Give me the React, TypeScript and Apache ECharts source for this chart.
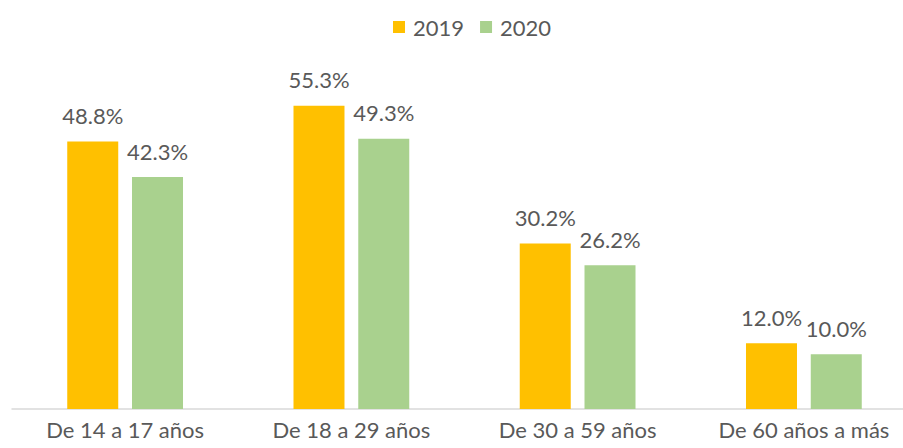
import React, { useEffect, useRef } from "react";
import * as echarts from "echarts";

const categories = ["De 14 a 17 años", "De 18 a 29 años", "De 30 a 59 años", "De 60 años a más"];
const seriesNames = ["2019", "2020"];
const values2019 = [48.8, 55.3, 30.2, 12.0];
const values2020 = [42.3, 49.3, 26.2, 10.0];
const colors = ["#FFC000", "#A9D18E"];

const FONT = "Lato, 'Open Sans', sans-serif";
const TEXT = "#595959";

export default function App() {
  const ref = useRef<HTMLDivElement>(null);
  useEffect(() => {
    if (!ref.current) return;
    const chart = echarts.init(ref.current, null, { renderer: "svg" });
    const label = {
      show: true,
      position: "top",
      distance: 15,
      color: TEXT,
      fontFamily: FONT,
      fontSize: 22,
      formatter: (p: any) => p.value.toFixed(1) + "%",
    };
    chart.setOption({
      animation: false,
      textStyle: { fontFamily: FONT },
      legend: {
        data: seriesNames,
        left: 388,
        top: 11,
        icon: "rect",
        itemWidth: 12,
        itemHeight: 12,
        itemGap: 16,
        textStyle: { color: TEXT, fontSize: 22, fontFamily: FONT, padding: [0, 0, 0, 3] },
      },
      grid: { left: 12, top: 80, width: 905, height: 329, outerBoundsMode: "none", containLabel: false },
      xAxis: {
        type: "category",
        data: categories,
        axisLine: { lineStyle: { color: "#d9d9d9", width: 1.5 } },
        axisTick: { show: false },
        axisLabel: { color: TEXT, fontSize: 22, fontFamily: FONT, margin: 9, interval: 0 },
      },
      yAxis: {
        type: "value",
        min: 0,
        max: 60,
        show: false,
        splitLine: { show: false },
      },
      series: [
        {
          name: seriesNames[0],
          type: "bar",
          data: values2019,
          barWidth: 51,
          barGap: "27%",
          itemStyle: { color: colors[0] },
          label,
        },
        {
          name: seriesNames[1],
          type: "bar",
          data: values2020,
          barWidth: 51,
          barGap: "27%",
          itemStyle: { color: colors[1] },
          label,
        },
      ],
    });
    return () => chart.dispose();
  }, []);
  return (
    <div
      ref={ref}
      style={{ position: "fixed", left: 0, top: 0, width: 903, height: 448, background: "#fff" }}
    />
  );
}
